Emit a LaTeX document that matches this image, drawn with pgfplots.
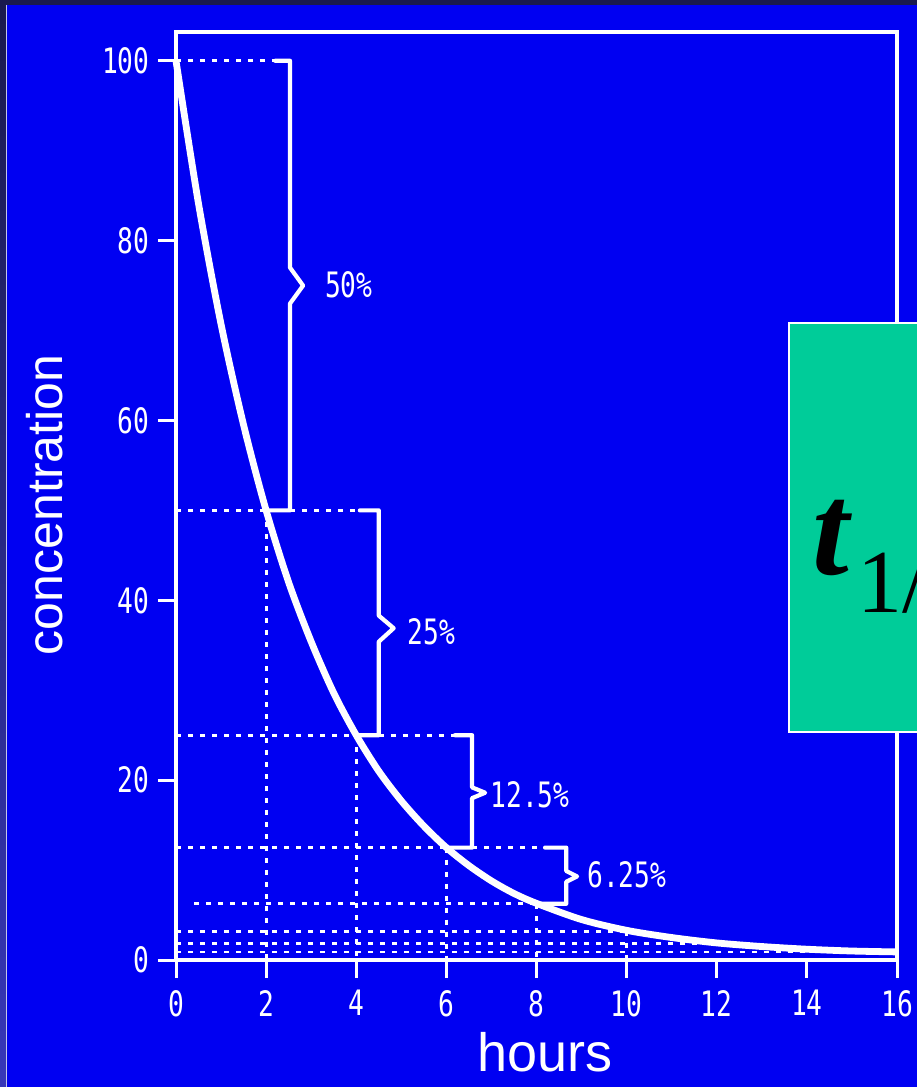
\documentclass[border=0pt]{standalone}
\usepackage{pgfplots}
\pgfplotsset{compat=1.18}
\usepackage{fontspec}
\setmainfont{Liberation Sans}
\newfontfamily\tickfont[FakeStretch=0.75]{DejaVu Sans Mono}
\newfontfamily\timesfont{Liberation Serif}

\definecolor{slideblue}{RGB}{0,0,242}
\definecolor{slidedark}{RGB}{26,26,78}
\definecolor{slideedge}{RGB}{55,55,185}
\definecolor{boxgreen}{RGB}{0,204,153}

\newcommand{\tfont}{\tickfont\fontsize{17.5bp}{17.5bp}\selectfont}

\begin{document}
\begin{tikzpicture}
% pixel grid of the slide: 1 px = 0.5 bp, y downwards
\useasboundingbox (0,0) rectangle (458.5bp,-543.5bp);
\clip (0,0) rectangle (458.5bp,-543.5bp);
\begin{scope}[x=0.5bp,y=-0.5bp]
  \fill[slidedark] (0,0) rectangle (917,1087);
  \shade[top color=slidedark, bottom color=slideedge] (0,5) rectangle (6,1087);
  \fill[slideblue] (7,5) rectangle (917,1087);
  \draw[white!70!slideedge, line width=0.5bp] (6.5,5) -- (6.5,1087);
\end{scope}

\begin{axis}[
    at={(88bp,-480bp)}, anchor=south west,
    scale only axis,
    width=360.5bp, height=464bp,
    xmin=0, xmax=16, ymin=0, ymax=103.2,
    xtick={0,2,...,16}, ytick={0,20,...,100},
    xtick pos=bottom, ytick pos=left,
    tick align=outside,
    major tick length=9bp,
    axis line style={white, line width=2bp},
    tick style={white, line width=1.5bp},
    ticklabel style={font=\tfont, text=white},
    /pgf/number format/assume math mode=true,
    yticklabel style={inner sep=0pt, xshift=-4bp},
    xticklabel style={inner sep=0pt, yshift=-6bp},
    clip=false,
    dots/.style={white, line width=1.4bp, dash pattern=on 2.5bp off 3.5bp},
    brack/.style={white, line width=2.1bp, line join=round, line cap=round},
]
% dotted guide lines
\addplot[dots] coordinates {(0,100) (2.2,100)};
\addplot[dots] coordinates {(0,50) (2,50)};
\addplot[dots] coordinates {(2.53,50) (4.08,50)};
\addplot[dots] coordinates {(0,25) (4,25)};
\addplot[dots] coordinates {(4.5,25) (6.19,25)};
\addplot[dots] coordinates {(0,12.5) (6,12.5)};
\addplot[dots] coordinates {(6.57,12.5) (8.19,12.5)};
\addplot[dots] coordinates {(0.4,6.25) (8,6.25)};
\addplot[dots] coordinates {(0,3.2) (10.2,3.2)};
\addplot[dots] coordinates {(0,1.8) (12.5,1.8)};
\addplot[dots] coordinates {(0,0.9) (15.5,0.9)};
\addplot[dots] coordinates {(2,50) (2,0)};
\addplot[dots] coordinates {(4,25) (4,0)};
\addplot[dots] coordinates {(6,12.5) (6,0)};
\addplot[dots] coordinates {(8,6.25) (8,0)};
\addplot[dots] coordinates {(10,3.2) (10,0)};

% brackets
\addplot[brack] coordinates {(2.2,100) (2.53,100) (2.53,77) (2.82,75) (2.53,73) (2.53,50) (2,50)};
\addplot[brack] coordinates {(4.08,50) (4.5,50) (4.5,38.3) (4.83,36.9) (4.5,35.4) (4.5,25) (4,25)};
\addplot[brack] coordinates {(6.19,25) (6.57,25) (6.57,19.2) (6.86,18.6) (6.57,18.0) (6.57,12.5) (6,12.5)};
\addplot[brack] coordinates {(8.19,12.5) (8.66,12.5) (8.66,9.9) (8.9,9.3) (8.66,8.7) (8.66,6.25) (8,6.25)};

% concentration curve
\addplot[white, line width=3.4bp, smooth] coordinates {
    (0,100) (0.5,84.1) (1,70.7) (1.5,59.5) (2,50) (2.5,42) (3,35.4)
    (3.5,29.7) (4,25) (4.5,21) (5,17.7) (5.5,14.9) (6,12.5) (6.5,10.5)
    (7,8.8) (7.5,7.4) (8,6.3) (9,4.5) (10,3.3) (11,2.5) (12,1.9)
    (13,1.5) (14,1.2) (15,1.0) (16,0.9)
};

\node[anchor=west, inner sep=0, text=white, font=\tfont] at (axis cs:3.3,75.1) {50\%};
\node[anchor=west, inner sep=0, text=white, font=\tfont] at (axis cs:5.13,36.5) {25\%};
\node[anchor=west, inner sep=0, text=white, font=\tfont] at (axis cs:6.97,18.4) {12.5\%};
\node[anchor=west, inner sep=0, text=white, font=\tfont] at (axis cs:9.12,9.5) {6.25\%};
\end{axis}

\begin{scope}[x=0.5bp,y=-0.5bp]
  \node[anchor=base, inner sep=0, text=white, font=\fontsize{27bp}{27bp}\selectfont] at (545,1072) {hours};
  \node[anchor=base, rotate=90, inner sep=0, text=white, font=\fontsize{25bp}{25bp}\selectfont] at (62,505) {concentration};
  \draw[white, line width=0.6bp, fill=boxgreen] (789,323) rectangle (1000,732);
  \node[anchor=base west, inner sep=0] at (812,575)
    {\timesfont\bfseries\itshape\fontsize{66bp}{66bp}\selectfont t};
  \node[anchor=base west, inner sep=0] at (857,613)
    {\timesfont\fontsize{45bp}{45bp}\selectfont 1/2};
\end{scope}
\end{tikzpicture}
\end{document}
